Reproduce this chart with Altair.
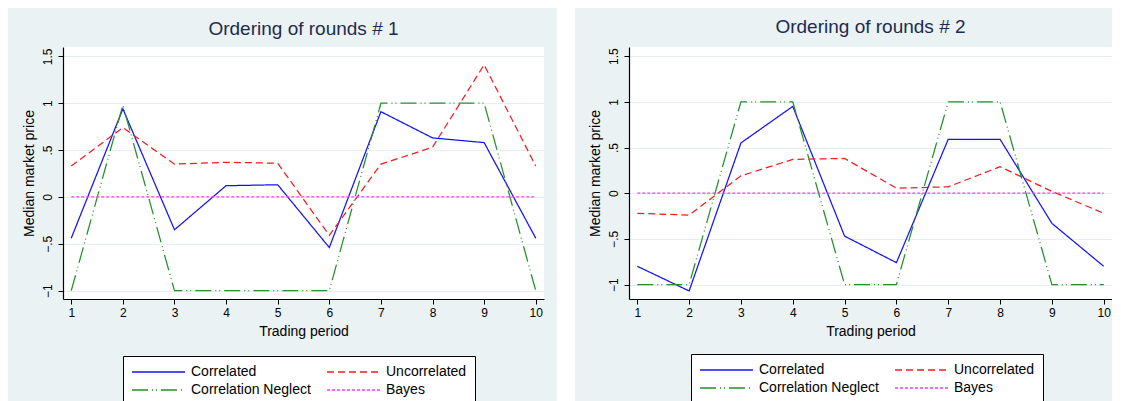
import altair as alt
import pandas as pd

# ---------------- data ----------------
periods = [1, 2, 3, 4, 5, 6, 7, 8, 9, 10]
# legend fills column by column: this order gives rows
# "Correlated | Uncorrelated" and "Correlation Neglect | Bayes"
series_names = ["Correlated", "Correlation Neglect", "Uncorrelated", "Bayes"]

r1_correlated = [-0.44, 0.94, -0.35, 0.12, 0.13, -0.54, 0.91, 0.63, 0.58, -0.44]
r1_uncorrelated = [0.33, 0.74, 0.35, 0.37, 0.36, -0.41, 0.35, 0.53, 1.41, 0.33]
r1_neglect = [-1, 0.98, -1, -1, -1, -1, 1, 1, 1, -1]
r1_bayes = [0, 0, 0, 0, 0, 0, 0, 0, 0, 0]

r2_correlated = [-0.80, -1.07, 0.55, 0.95, -0.47, -0.76, 0.59, 0.59, -0.33, -0.80]
r2_uncorrelated = [-0.22, -0.24, 0.19, 0.37, 0.38, 0.055, 0.07, 0.29, 0.02, -0.22]
r2_neglect = [-1, -1, 1, 1, -1, -1, 1, 1, -1, -1]
r2_bayes = [0, 0, 0, 0, 0, 0, 0, 0, 0, 0]

y_ticks = [-1, -0.5, 0, 0.5, 1, 1.5]

# ---------------- styles ----------------
series_colors = ["#1414F0", "#24902A", "#F01E1E", "#F53CF5"]
series_dashes = [[1, 0], [16, 4, 1, 3, 1, 4], [7, 4], [3, 2]]
FONT = "Liberation Sans"
PANEL_BG = "#EAF2F3"


def long_df(corr, unc, neg, bay):
    rows = []
    for name, vals in zip(["Correlated", "Uncorrelated", "Correlation Neglect", "Bayes"],
                          [corr, unc, neg, bay]):
        for p, v in zip(periods, vals):
            rows.append({"period": p, "value": v, "series": name})
    return pd.DataFrame(rows)


def panel(title_text, toff, corr, unc, neg, bay, ydom, width, lx, ly):
    df = long_df(corr, unc, neg, bay)
    leg = alt.Legend(title=None, orient="none", legendX=lx, legendY=ly, columns=2)
    return (
        alt.Chart(df)
        .mark_line(strokeWidth=1.25)
        .encode(
            x=alt.X(
                "period:Q",
                scale=alt.Scale(domain=[0.84, 10.16], nice=False, zero=False),
                axis=alt.Axis(values=periods, format="d", title="Trading period",
                              grid=False, labelPadding=3, titlePadding=6),
            ),
            y=alt.Y(
                "value:Q",
                scale=alt.Scale(domain=ydom, nice=False, zero=False),
                axis=alt.Axis(
                    values=y_ticks,
                    labelExpr="replace(format(datum.value, ''), '0.', '.')",
                    title="Median market price",
                    grid=True,
                    labelAngle=270,
                    labelAlign="center",
                    labelBaseline="bottom",
                    labelPadding=4,
                    titlePadding=5,
                ),
            ),
            color=alt.Color("series:N",
                            scale=alt.Scale(domain=series_names, range=series_colors),
                            legend=leg),
            strokeDash=alt.StrokeDash("series:N",
                                      scale=alt.Scale(domain=series_names, range=series_dashes),
                                      legend=leg),
        )
        .properties(
            width=width,
            height=252,
            title=alt.Title(text=title_text, offset=toff),
        )
    )


p1 = panel("Ordering of rounds # 1", 8.5,
           r1_correlated, r1_uncorrelated, r1_neglect, r1_bayes,
           [-1.089, 1.60], 481, 60, 309)
p2 = panel("Ordering of rounds # 2", 10.5,
           r2_correlated, r2_uncorrelated, r2_neglect, r2_bayes,
           [-1.158, 1.60], 483, 62, 307)

# white gutter between the two grey panels
spacer = (
    alt.Chart(pd.DataFrame({"s": [0]}))
    .mark_rect(fill="white", clip=False)
    .encode(x=alt.value(0), x2=alt.value(18), y=alt.value(-39), y2=alt.value(420))
    .properties(width=18, height=252)
)

chart = (
    alt.hconcat(p1, spacer, p2, spacing=13)
    .resolve_scale(color="independent", strokeDash="independent")
    .resolve_legend(color="independent", strokeDash="independent")
    .properties(background=PANEL_BG,
                padding={"left": 13, "top": 0, "right": 0, "bottom": 0})
    .configure_view(stroke=None, fill="white")
    .configure_title(font=FONT, fontSize=19, fontWeight="normal", color="#1E2B4E",
                     anchor="middle", frame="group")
    .configure_axis(
        domainColor="black", domainWidth=1.2, tickColor="black", tickSize=5, tickWidth=1,
        labelFont=FONT, labelFontSize=12, labelColor="black",
        titleFont=FONT, titleFontSize=14, titleFontWeight="normal", titleColor="black",
        gridColor="#E6EFF1", gridWidth=1,
    )
    .configure_legend(
        symbolType="stroke", symbolSize=2809, symbolStrokeWidth=1.3,
        labelFont=FONT, labelFontSize=14, labelColor="black",
        strokeColor="black", fillColor="white", padding=8,
        columnPadding=15, rowPadding=2, labelOffset=5, clipHeight=16,
    )
)

chart.save("out.html", embed_options={"renderer": "svg", "actions": False})
